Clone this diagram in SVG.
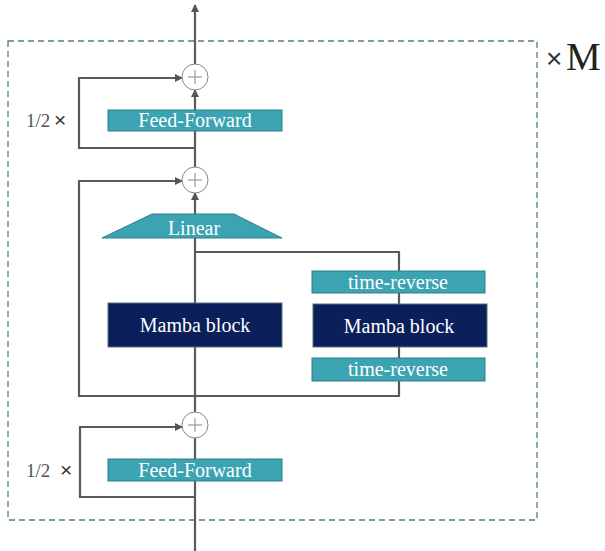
<svg xmlns="http://www.w3.org/2000/svg" width="605" height="551" viewBox="0 0 605 551">
<defs>
<marker id="ah" markerWidth="8" markerHeight="8" refX="7" refY="4" orient="auto" markerUnits="userSpaceOnUse">
<path d="M0,0 L8,4 L0,8 Z" fill="#555"/>
</marker>
<style>
.ln{fill:none;stroke:#5a5a5a;stroke-width:2.2}
.teal{fill:#3ca3b3;stroke:#2e7f8c;stroke-width:1}
.navy{fill:#0b1f5b;stroke:#56707a;stroke-width:1}
text{font-family:'Liberation Serif','Times New Roman',serif}
.lt{fill:#fff;text-anchor:middle}
.bt{fill:#555}
.x{font-family:'Liberation Sans',Arial,sans-serif;fill:#333}
.plus{fill:#fff;stroke:#888;stroke-width:1}
.pl{stroke:#999;stroke-width:1.2}
</style>
</defs>
<rect x="8" y="41" width="529" height="479" fill="none" stroke="#4f7f86" stroke-width="1.3" stroke-dasharray="6,4"/>
<g id="connectors">
<line class="ln" x1="195" y1="551" x2="195" y2="412" marker-end="url(#ah)"/>
<line class="ln" x1="195" y1="412" x2="195" y2="193" marker-end="url(#ah)"/>
<line class="ln" x1="195" y1="167" x2="195" y2="90" marker-end="url(#ah)"/>
<line class="ln" x1="195" y1="64" x2="195" y2="5" marker-end="url(#ah)"/>
<polyline class="ln" points="195,148 79,148 79,78 182,78" marker-end="url(#ah)"/>
<polyline class="ln" points="195,252 399,252 399,396 79,396 79,181 182,181" marker-end="url(#ah)"/>
<polyline class="ln" points="195,497 80,497 80,427 182,427" marker-end="url(#ah)"/>
</g>
<g id="plus1"><circle class="plus" cx="195" cy="77" r="13"/><line class="pl" x1="188" y1="77" x2="202" y2="77"/><line class="pl" x1="195" y1="70" x2="195" y2="84"/></g>
<g id="plus2"><circle class="plus" cx="195" cy="180" r="13"/><line class="pl" x1="188" y1="180" x2="202" y2="180"/><line class="pl" x1="195" y1="173" x2="195" y2="187"/></g>
<g id="plus3"><circle class="plus" cx="195" cy="425" r="13"/><line class="pl" x1="188" y1="425" x2="202" y2="425"/><line class="pl" x1="195" y1="418" x2="195" y2="432"/></g>
<g id="ff-top"><rect class="teal" x="108" y="110" width="174" height="21"/><text class="lt" x="195" y="127" font-size="20">Feed-Forward</text></g>
<g id="linear"><polygon class="teal" points="152,214 234,214 282,238 102,238"/><text class="lt" x="194" y="235" font-size="20">Linear</text></g>
<g id="mamba-left"><rect class="navy" x="108" y="303" width="174" height="44"/><text class="lt" x="195" y="332" font-size="20">Mamba block</text></g>
<g id="tr-top"><rect class="teal" x="312" y="271" width="173" height="22"/><text class="lt" x="398" y="289" font-size="20">time-reverse</text></g>
<g id="mamba-right"><rect class="navy" x="313" y="304" width="174" height="43"/><text class="lt" x="399" y="333" font-size="20">Mamba block</text></g>
<g id="tr-bottom"><rect class="teal" x="312" y="358" width="173" height="23"/><text class="lt" x="398" y="376" font-size="20">time-reverse</text></g>
<g id="ff-bottom"><rect class="teal" x="108" y="459" width="174" height="22"/><text class="lt" x="195" y="477" font-size="20">Feed-Forward</text></g>
<text class="bt" x="26" y="127" font-size="19">1/2</text><text class="x" x="54" y="127" font-size="21">×</text>
<text class="bt" x="26" y="477" font-size="19">1/2</text><text class="x" x="60" y="477" font-size="21">×</text>
<text class="x" x="546" y="68" font-size="28" fill="#222">×</text><text x="566" y="70" font-size="39" fill="#222">M</text>
</svg>
